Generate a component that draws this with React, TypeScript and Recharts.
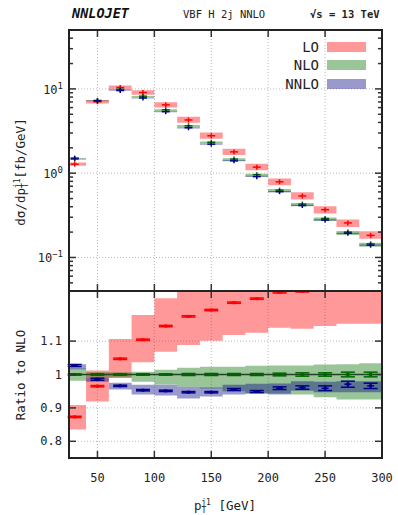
import React from "react"
import {
  Area,
  CartesianGrid,
  ComposedChart,
  ErrorBar,
  ReferenceLine,
  Scatter,
  XAxis,
  YAxis,
} from "recharts"

const FONT = '"DejaVu Sans Mono", monospace'

// pT^j1 bins [GeV]
const binEdges = [20, 40, 60, 80, 100, 120, 140, 160, 180, 200, 220, 240, 260, 280, 300]
const binCenters = [30, 50, 70, 90, 110, 130, 150, 170, 190, 210, 230, 250, 270, 290]

// dsigma/dpT [fb/GeV]
const xsLO = [1.28, 7.05, 10.4, 9.05, 6.47, 4.28, 2.78, 1.79, 1.18, 0.79, 0.537, 0.369, 0.257, 0.183]
const xsNLO = [1.47, 7.3, 9.9, 8.2, 5.65, 3.65, 2.33, 1.47, 0.96, 0.63, 0.43, 0.29, 0.2, 0.145]
const xsNNLO = [1.51, 7.2, 9.56, 7.81, 5.37, 3.46, 2.21, 1.4, 0.91, 0.604, 0.413, 0.278, 0.194, 0.14]

// ratio to NLO, central values and scale bands
const ratioLO = [0.873, 0.965, 1.047, 1.104, 1.145, 1.174, 1.193, 1.215, 1.227, 1.246, 1.249, 1.27, 1.285, 1.26]
const ratioLOLow = [0.835, 0.919, 0.99, 1.037, 1.068, 1.088, 1.101, 1.118, 1.125, 1.14, 1.137, 1.145, 1.152, 1.152]
const ratioLOHigh = [0.909, 1.012, 1.106, 1.178, 1.228, 1.28, 1.3, 1.33, 1.35, 1.37, 1.38, 1.4, 1.41, 1.41]
const ratioNLO = [1, 1, 1, 1, 1, 1, 1, 1, 1, 1, 1, 1, 1, 1]
const ratioNLOLow = [0.981, 0.99, 0.99, 0.978, 0.97, 0.963, 0.958, 0.95, 0.943, 0.943, 0.94, 0.932, 0.925, 0.925]
const ratioNLOHigh = [1.018, 1.007, 1.007, 1.008, 1.014, 1.02, 1.023, 1.023, 1.026, 1.027, 1.027, 1.03, 1.031, 1.034]
const ratioNNLO = [1.027, 0.986, 0.966, 0.953, 0.951, 0.947, 0.947, 0.955, 0.949, 0.959, 0.961, 0.959, 0.971, 0.966]
const ratioNNLOLow = [1.016, 0.978, 0.955, 0.94, 0.937, 0.928, 0.934, 0.94, 0.943, 0.94, 0.951, 0.947, 0.947, 0.947]
const ratioNNLOHigh = [1.031, 0.99, 0.975, 0.969, 0.969, 0.963, 0.961, 0.969, 0.972, 0.973, 0.98, 0.978, 0.98, 0.98]

// MC errors on the ratio
const errLO = [0.002, 0.002, 0.002, 0.002, 0.002, 0.002, 0.002, 0.002, 0.002, 0.002, 0.002, 0.002, 0.002, 0.002]
const errNLO = [0.002, 0.002, 0.002, 0.002, 0.002, 0.003, 0.003, 0.003, 0.003, 0.004, 0.005, 0.005, 0.007, 0.007]
const errNNLO = [0.003, 0.003, 0.002, 0.002, 0.002, 0.002, 0.002, 0.003, 0.003, 0.004, 0.005, 0.007, 0.009, 0.008]

const xTicks = [50, 100, 150, 200, 250, 300]
const logTicks = [
  0.04, 0.05, 0.06, 0.07, 0.08, 0.09, 0.1, 0.2, 0.3, 0.4, 0.5, 0.6, 0.7, 0.8, 0.9,
  1, 2, 3, 4, 5, 6, 7, 8, 9, 10, 20, 30, 40, 50,
]
const logMajor = [0.1, 1, 10]
const ratioTicks = [0.8, 0.9, 1, 1.1]

const LO_FILL = "rgba(255,0,0,0.4)"
const NLO_FILL = "rgba(0,110,0,0.4)"
const NNLO_FILL = "rgba(0,0,128,0.4)"
const LO_COL = "#ff0000"
const NLO_COL = "#006400"
const NNLO_COL = "#00008b"

const LEFT = 69
const RIGHT = 382
const TICK = "#333"

// step-band rows: one per bin edge, last edge repeats last bin
const topRows = binEdges.map((x, i) => {
  const b = Math.min(i, binCenters.length - 1)
  return {
    x,
    lo: [xsNLO[b] * ratioLOLow[b], xsNLO[b] * ratioLOHigh[b]],
    nlo: [xsNLO[b] * ratioNLOLow[b], xsNLO[b] * ratioNLOHigh[b]],
    nnlo: [xsNLO[b] * ratioNNLOLow[b], xsNLO[b] * ratioNNLOHigh[b]],
  }
})
const ratioRows = binEdges.map((x, i) => {
  const b = Math.min(i, binCenters.length - 1)
  return {
    x,
    lo: [ratioLOLow[b], ratioLOHigh[b]],
    nlo: [ratioNLOLow[b], ratioNLOHigh[b]],
    nnlo: [ratioNNLOLow[b], ratioNNLOHigh[b]],
  }
})

const pts = (ys: number[], errs?: number[]) =>
  binCenters.map((x, i) => ({ x, y: ys[i], e: errs ? errs[i] : 0 }))

function crossShape(props: any) {
  const { cx, cy, fill } = props
  return (
    <g>
      <line x1={cx - 4} x2={cx + 4} y1={cy} y2={cy} stroke={fill} strokeWidth={1.5} />
      <line x1={cx} x2={cx} y1={cy - 2.5} y2={cy + 2.5} stroke={fill} strokeWidth={1.5} />
    </g>
  )
}

function barShape(props: any) {
  const { cx, cy, fill } = props
  return (
    <g>
      <line x1={cx - 3.5} x2={cx + 3.5} y1={cy} y2={cy} stroke={fill} strokeWidth={1.5} />
      <rect x={cx - 1.5} y={cy - 1.5} width={3} height={3} fill={fill} />
    </g>
  )
}

function topXTick({ x, y }: any) {
  return (
    <g>
      <line x1={x} x2={x} y1={y} y2={y - 7} stroke={TICK} strokeWidth={1.5} />
      <line x1={x} x2={x} y1={30} y2={37} stroke={TICK} strokeWidth={1.5} />
    </g>
  )
}

function ratioXTick({ x, y, payload }: any) {
  return (
    <g>
      <line x1={x} x2={x} y1={y} y2={y - 7} stroke={TICK} strokeWidth={1.5} />
      <line x1={x} x2={x} y1={0} y2={7} stroke={TICK} strokeWidth={1.5} />
      <text x={x} y={y + 24} textAnchor="middle" fontFamily={FONT} fontSize={12} fill="#222">
        {payload.value}
      </text>
    </g>
  )
}

function logYTick({ x, y, payload }: any) {
  const v = payload.value
  const major = logMajor.includes(v)
  const len = major ? 7 : 4
  const exp = Math.round(Math.log10(v))
  return (
    <g>
      <line x1={x} x2={x + len} y1={y} y2={y} stroke={TICK} strokeWidth={1.5} />
      <line x1={RIGHT} x2={RIGHT - len} y1={y} y2={y} stroke={TICK} strokeWidth={1.5} />
      {major && (
        <text x={x - 6} y={y + 5} textAnchor="end" fontFamily={FONT} fontSize={12} fill="#222">
          10
          <tspan dy={-5} fontSize={9}>
            {exp < 0 ? "\u2212" + Math.abs(exp) : exp}
          </tspan>
        </text>
      )}
    </g>
  )
}

function ratioYTick({ x, y, payload }: any) {
  return (
    <g>
      <line x1={x} x2={x + 7} y1={y} y2={y} stroke={TICK} strokeWidth={1.5} />
      <line x1={RIGHT} x2={RIGHT - 7} y1={y} y2={y} stroke={TICK} strokeWidth={1.5} />
      <text x={x - 7} y={y + 4} textAnchor="end" fontFamily={FONT} fontSize={12} fill="#222">
        {payload.value}
      </text>
    </g>
  )
}

const legendItems = [
  { name: "LO", fill: LO_FILL, top: 42 },
  { name: "NLO", fill: NLO_FILL, top: 60 },
  { name: "NNLO", fill: NNLO_FILL, top: 79 },
]

export default function App() {
  return (
    <div style={{ position: "absolute", left: 0, top: 0, width: 398, height: 515, background: "#fff" }}>
      <div style={{ position: "absolute", left: 0, top: 0 }}>
        <ComposedChart width={398} height={292} data={topRows} margin={{ top: 30, right: 16, bottom: 0, left: 0 }}>
          <CartesianGrid horizontal={false} stroke="#bbb" strokeDasharray="1 2" />
          <XAxis
            type="number"
            dataKey="x"
            domain={[25, 300]}
            ticks={xTicks}
            interval={0}
            allowDataOverflow
            height={1}
            tickSize={0}
            tickMargin={0}
            axisLine={false}
            tickLine={false}
            tick={topXTick}
          />
          <YAxis
            scale="log"
            domain={[0.04, 50]}
            ticks={logTicks}
            interval={0}
            allowDataOverflow
            width={69}
            tickSize={0}
            tickMargin={0}
            axisLine={false}
            tickLine={false}
            tick={logYTick}
          />
          {logMajor.map((v) => (
            <ReferenceLine key={v} y={v} stroke="#bbb" strokeDasharray="1 2" />
          ))}
          <Area type="stepAfter" dataKey="lo" fill={LO_FILL} fillOpacity={1} stroke="none" dot={false} activeDot={false} isAnimationActive={false} />
          <Area type="stepAfter" dataKey="nlo" fill={NLO_FILL} fillOpacity={1} stroke="none" dot={false} activeDot={false} isAnimationActive={false} />
          <Area type="stepAfter" dataKey="nnlo" fill={NNLO_FILL} fillOpacity={1} stroke="none" dot={false} activeDot={false} isAnimationActive={false} />
          <Scatter data={pts(xsLO)} dataKey="y" fill={LO_COL} shape={crossShape} isAnimationActive={false} />
          <Scatter data={pts(xsNLO)} dataKey="y" fill={NLO_COL} shape={crossShape} isAnimationActive={false} />
          <Scatter data={pts(xsNNLO)} dataKey="y" fill={NNLO_COL} shape={crossShape} isAnimationActive={false} />
        </ComposedChart>
      </div>

      <div style={{ position: "absolute", left: 0, top: 291 }}>
        <ComposedChart width={398} height={224} data={ratioRows} margin={{ top: 0, right: 16, bottom: 0, left: 0 }}>
          <CartesianGrid stroke="#bbb" strokeDasharray="1 2" />
          <XAxis
            type="number"
            dataKey="x"
            domain={[25, 300]}
            ticks={xTicks}
            interval={0}
            allowDataOverflow
            height={57}
            tickSize={0}
            tickMargin={0}
            axisLine={false}
            tickLine={false}
            tick={ratioXTick}
          />
          <YAxis
            domain={[0.75, 1.25]}
            ticks={ratioTicks}
            interval={0}
            allowDataOverflow
            width={69}
            tickSize={0}
            tickMargin={0}
            axisLine={false}
            tickLine={false}
            tick={ratioYTick}
          />
          <Area type="stepAfter" dataKey="lo" fill={LO_FILL} fillOpacity={1} stroke="none" dot={false} activeDot={false} isAnimationActive={false} />
          <Area type="stepAfter" dataKey="nlo" fill={NLO_FILL} fillOpacity={1} stroke="none" dot={false} activeDot={false} isAnimationActive={false} />
          <Area type="stepAfter" dataKey="nnlo" fill={NNLO_FILL} fillOpacity={1} stroke="none" dot={false} activeDot={false} isAnimationActive={false} />
          <ReferenceLine y={1} stroke="#234423" strokeWidth={1.5} />
          <Scatter data={pts(ratioLO, errLO)} dataKey="y" fill={LO_COL} shape={barShape} isAnimationActive={false}>
            <ErrorBar dataKey="e" direction="y" width={7} stroke={LO_COL} strokeWidth={1.5} />
          </Scatter>
          <Scatter data={pts(ratioNLO, errNLO)} dataKey="y" fill={NLO_COL} shape={barShape} isAnimationActive={false}>
            <ErrorBar dataKey="e" direction="y" width={7} stroke={NLO_COL} strokeWidth={1.5} />
          </Scatter>
          <Scatter data={pts(ratioNNLO, errNNLO)} dataKey="y" fill={NNLO_COL} shape={barShape} isAnimationActive={false}>
            <ErrorBar dataKey="e" direction="y" width={7} stroke={NNLO_COL} strokeWidth={1.5} />
          </Scatter>
        </ComposedChart>
      </div>

      {/* frames, titles, axis labels */}
      <svg width={398} height={515} style={{ position: "absolute", left: 0, top: 0, pointerEvents: "none" }}>
        <rect x={LEFT} y={30} width={RIGHT - LEFT} height={261} fill="none" stroke="#222" strokeWidth={2} />
        <rect x={LEFT} y={291} width={RIGHT - LEFT} height={167} fill="none" stroke="#222" strokeWidth={2} />
        <text x={72} y={18} fontFamily={FONT} fontSize={13.5} fontWeight="bold" fontStyle="italic" fill="#111">
          NNLOJET
        </text>
        <text x={183} y={18} fontFamily={FONT} fontSize={10.5} fill="#222">
          VBF H 2j NNLO
        </text>
        <text x={310} y={18} fontFamily={FONT} fontSize={10.5} fontWeight="bold" fill="#222">
          {"\u221As = 13 TeV"}
        </text>
        <text transform="translate(25,172) rotate(-90)" textAnchor="middle" fontFamily={FONT} fontSize={12.5} fill="#222">
          d{"\u03C3"}/dp
          <tspan dy={3} fontSize={8}>T</tspan>
          <tspan dy={-8} dx={-5} fontSize={8}>j1</tspan>
          <tspan dy={5}>[fb/GeV]</tspan>
        </text>
        <text transform="translate(25,375) rotate(-90)" textAnchor="middle" fontFamily={FONT} fontSize={12.5} fill="#222">
          Ratio to NLO
        </text>
        <text x={225} y={510} textAnchor="middle" fontFamily={FONT} fontSize={12.5} fill="#222">
          p
          <tspan dy={3} fontSize={8}>T</tspan>
          <tspan dy={-8} dx={-5} fontSize={8}>j1</tspan>
          <tspan dy={5}> [GeV]</tspan>
        </text>
      </svg>

      {legendItems.map((it) => (
        <div key={it.name} style={{ position: "absolute", left: 200, top: it.top - 5, width: 166, height: 20 }}>
          <span
            style={{
              position: "absolute",
              right: 47,
              top: 0,
              fontFamily: FONT,
              fontSize: 14,
              lineHeight: "20px",
              color: "#222",
            }}
          >
            {it.name}
          </span>
          <div style={{ position: "absolute", left: 127, top: 5, width: 39, height: 10, background: it.fill }} />
        </div>
      ))}
    </div>
  )
}
